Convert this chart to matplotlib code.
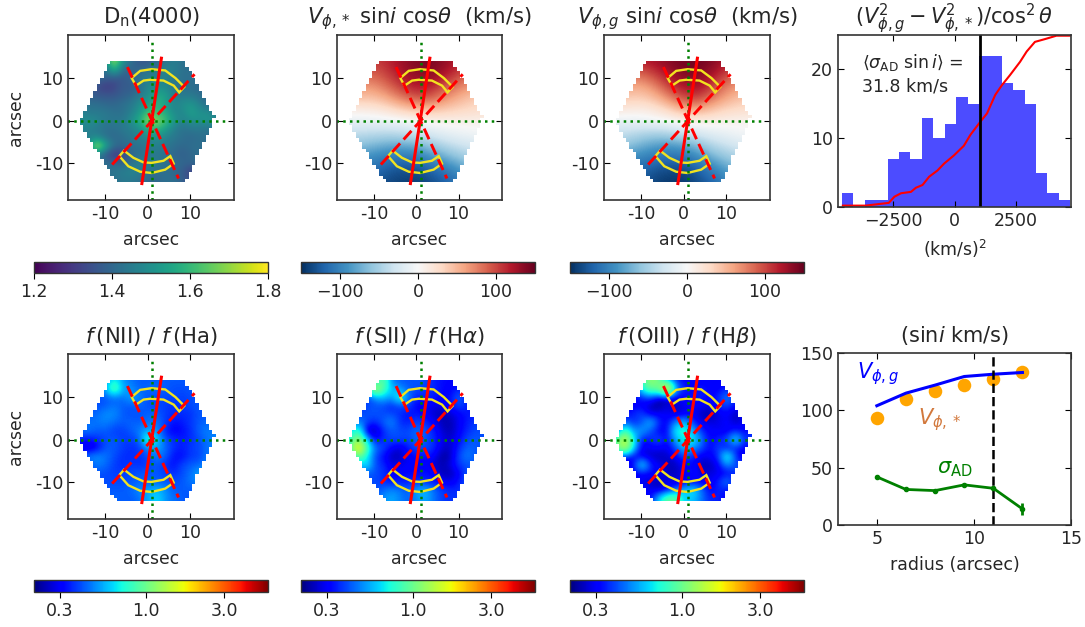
import matplotlib
matplotlib.use('Agg')
import matplotlib.pyplot as plt
import numpy as np
from matplotlib.colors import LogNorm, Normalize
from matplotlib.patches import Polygon

W, H = 1085, 627

# map grids
fine_x = [-16, -14, -12, -10, -8, -6, -4, -2, 0, 2, 4, 6, 8, 10, 12, 14, 16]
fine_y = [14, 12, 10, 8, 6, 4, 2, 0, -2, -4, -6, -8, -10, -12, -14]
vel_x = [-16, -12.8, -9.6, -6.4, -3.2, 0, 3.2, 6.4, 9.6, 12.8, 16]
vel_y = [14, 11.1, 8.2, 5.3, 2.4, -0.5, -3.4, -6.3, -9.2, -12.1, -15]

dn4000 = [
    [1.42, 1.42, 1.42, 1.50, 1.74, 1.50, 1.42, 1.36, 1.36, 1.40, 1.42, 1.46, 1.42, 1.42, 1.42, 1.42, 1.42],
    [1.42, 1.42, 1.42, 1.42, 1.60, 1.42, 1.38, 1.40, 1.42, 1.45, 1.48, 1.46, 1.42, 1.42, 1.42, 1.42, 1.42],
    [1.42, 1.42, 1.40, 1.38, 1.36, 1.36, 1.40, 1.44, 1.46, 1.46, 1.46, 1.44, 1.42, 1.42, 1.42, 1.42, 1.42],
    [1.40, 1.40, 1.34, 1.30, 1.32, 1.38, 1.36, 1.42, 1.48, 1.50, 1.48, 1.44, 1.42, 1.42, 1.40, 1.40, 1.40],
    [1.40, 1.38, 1.36, 1.36, 1.36, 1.38, 1.40, 1.44, 1.50, 1.56, 1.54, 1.46, 1.44, 1.44, 1.42, 1.40, 1.40],
    [1.44, 1.42, 1.42, 1.40, 1.40, 1.42, 1.44, 1.50, 1.54, 1.60, 1.54, 1.46, 1.50, 1.52, 1.46, 1.40, 1.40],
    [1.46, 1.44, 1.44, 1.44, 1.42, 1.42, 1.46, 1.52, 1.62, 1.60, 1.56, 1.48, 1.48, 1.54, 1.50, 1.50, 1.42],
    [1.48, 1.50, 1.48, 1.44, 1.44, 1.44, 1.50, 1.58, 1.72, 1.70, 1.62, 1.52, 1.46, 1.50, 1.50, 1.52, 1.50],
    [1.48, 1.46, 1.44, 1.42, 1.42, 1.44, 1.46, 1.50, 1.58, 1.60, 1.54, 1.46, 1.42, 1.44, 1.44, 1.42, 1.44],
    [1.42, 1.46, 1.48, 1.42, 1.40, 1.42, 1.44, 1.46, 1.48, 1.50, 1.46, 1.44, 1.42, 1.40, 1.42, 1.42, 1.40],
    [1.42, 1.50, 1.78, 1.56, 1.42, 1.40, 1.42, 1.42, 1.44, 1.46, 1.44, 1.42, 1.40, 1.42, 1.42, 1.40, 1.40],
    [1.42, 1.44, 1.46, 1.36, 1.28, 1.32, 1.40, 1.42, 1.44, 1.44, 1.42, 1.40, 1.38, 1.40, 1.42, 1.40, 1.40],
    [1.42, 1.42, 1.42, 1.42, 1.40, 1.38, 1.42, 1.46, 1.46, 1.44, 1.42, 1.42, 1.40, 1.40, 1.42, 1.40, 1.40],
    [1.42, 1.42, 1.42, 1.42, 1.44, 1.46, 1.48, 1.46, 1.42, 1.42, 1.42, 1.40, 1.38, 1.30, 1.36, 1.40, 1.40],
    [1.42, 1.42, 1.42, 1.42, 1.42, 1.44, 1.44, 1.42, 1.40, 1.40, 1.42, 1.42, 1.38, 1.34, 1.38, 1.40, 1.40],
]
vel_star = [
    [105, 105, 105, 115, 130, 140, 142, 135, 120, 105, 100],
    [90, 90, 92, 108, 125, 135, 138, 125, 105, 92, 88],
    [68, 66, 70, 88, 110, 122, 120, 98, 80, 66, 60],
    [45, 44, 46, 60, 80, 95, 92, 72, 55, 42, 36],
    [8, 10, 14, 22, 34, 42, 42, 38, 32, 28, 24],
    [-14, -14, -14, -12, -10, -6, 2, 4, 5, 6, 6],
    [-40, -42, -44, -46, -42, -36, -28, -18, -12, -8, -6],
    [-60, -68, -75, -82, -82, -78, -64, -50, -38, -30, -25],
    [-92, -95, -102, -110, -112, -112, -98, -82, -66, -54, -46],
    [-108, -112, -118, -128, -134, -134, -124, -112, -98, -82, -70],
    [-120, -125, -130, -138, -142, -142, -135, -125, -110, -90, -80],
]
vel_gas = [
    [110, 115, 120, 128, 138, 145, 145, 140, 125, 110, 105],
    [88, 88, 90, 108, 128, 140, 140, 128, 105, 90, 85],
    [62, 58, 58, 78, 108, 125, 128, 108, 80, 65, 60],
    [42, 38, 38, 50, 75, 100, 104, 82, 60, 45, 40],
    [14, 12, 10, 18, 32, 52, 54, 42, 30, 26, 22],
    [-14, -14, -12, -8, -5, 0, 6, 7, 5, 4, 4],
    [-38, -42, -50, -55, -50, -38, -30, -20, -14, -6, -4],
    [-54, -66, -78, -88, -92, -86, -70, -50, -38, -28, -22],
    [-90, -98, -105, -112, -115, -115, -102, -80, -64, -52, -45],
    [-108, -115, -122, -132, -138, -138, -125, -108, -90, -72, -60],
    [-118, -120, -128, -142, -145, -145, -135, -122, -105, -82, -70],
]
nii_ha = [
    [.40, .40, .40, .50, .70, .50, .45, .42, .42, .42, .42, .42, .42, .40, .40, .40, .40],
    [.40, .40, .40, .55, 1.0, .55, .50, .42, .44, .46, .42, .40, .40, .42, .40, .40, .40],
    [.40, .40, .40, .42, .44, .45, .55, .48, .40, .40, .40, .40, .38, .40, .40, .40, .40],
    [.40, .40, .40, .42, .46, .42, .42, .44, .40, .40, .38, .36, .38, .40, .42, .40, .40],
    [.40, .42, .45, .50, .50, .42, .40, .40, .44, .42, .38, .36, .36, .36, .42, .40, .40],
    [.42, .46, .46, .48, .44, .42, .44, .42, .46, .46, .38, .32, .34, .38, .42, .45, .40],
    [.44, .46, .42, .42, .38, .38, .42, .48, .55, .50, .34, .30, .32, .36, .44, .48, .45],
    [.35, .32, .36, .40, .42, .38, .38, .42, .85, .60, .40, .36, .34, .36, .40, .46, .50],
    [.28, .24, .30, .42, .42, .38, .36, .38, .50, .55, .44, .36, .34, .38, .40, .46, .50],
    [.40, .48, .50, .46, .40, .36, .36, .36, .40, .48, .42, .32, .32, .38, .38, .48, .40],
    [.40, .40, .48, .44, .38, .36, .38, .36, .38, .42, .36, .32, .40, .42, .44, .50, .40],
    [.40, .40, .40, .40, .38, .38, .40, .42, .42, .42, .38, .36, .40, .46, .55, .55, .40],
    [.40, .40, .40, .40, .40, .40, .42, .44, .42, .42, .42, .40, .42, .46, .50, .40, .40],
    [.40, .40, .40, .42, .42, .42, .44, .50, .55, .60, .50, .42, .42, .42, .42, .40, .40],
    [.40, .40, .40, .42, .44, .42, .42, .45, .55, .65, .50, .45, .42, .40, .40, .40, .40],
]
sii_ha = [
    [.35, .35, .35, .60, 1.0, .45, .42, .40, .42, .40, .35, .32, .32, .30, .30, .30, .30],
    [.35, .35, .35, 1.4, .90, .60, .50, .42, .40, .38, .35, .32, .30, .35, .30, .30, .30],
    [.35, .35, .35, .50, .60, .50, .80, .45, .34, .35, .35, .30, .32, .45, .32, .30, .30],
    [.35, .35, .40, .40, .40, .34, .40, .38, .30, .30, .28, .28, .34, .40, .34, .30, .30],
    [.35, .40, .40, .42, .40, .40, .36, .32, .34, .30, .26, .24, .26, .30, .34, .34, .30],
    [.40, .50, .40, .34, .42, .50, .36, .34, .40, .36, .30, .24, .24, .30, .34, .38, .40],
    [.55, .90, .24, .22, .35, .42, .40, .40, .45, .42, .34, .26, .24, .30, .36, .40, .40],
    [.70, 1.2, .60, .30, .36, .40, .40, .38, .45, .40, .36, .28, .26, .32, .40, .42, .40],
    [.70, 1.9, .90, .45, .40, .30, .26, .34, .40, .40, .36, .26, .26, .36, .44, .42, .40],
    [.50, 1.0, .70, .40, .32, .24, .25, .30, .32, .34, .30, .22, .25, .40, .48, .40, .40],
    [.40, .50, .70, .40, .36, .28, .28, .30, .30, .30, .26, .24, .28, .38, .40, .42, .40],
    [.40, .40, .42, .40, .38, .30, .32, .32, .32, .34, .30, .24, .24, .30, .42, .45, .40],
    [.40, .40, .40, .40, .36, .32, .34, .34, .36, .34, .34, .30, .28, .34, .42, .40, .40],
    [.40, .40, .40, .40, .44, .50, .46, .42, .55, .60, .44, .38, .36, .36, .40, .40, .40],
    [.40, .40, .40, .40, .50, .55, .48, .42, .50, .55, .45, .38, .36, .38, .40, .40, .40],
]
oiii_hb = [
    [.30, .30, .30, .80, 1.2, 1.0, .50, .35, .30, .30, .30, .30, .30, .30, .30, .30, .30],
    [.30, .30, .30, .70, 1.0, 1.0, 1.8, .50, .35, .30, .35, .30, .30, .35, .30, .30, .30],
    [.30, .30, .30, .35, .40, .25, .26, .30, .30, .35, .35, .30, .35, .50, .35, .30, .30],
    [.30, .30, .30, .30, .24, .22, .28, .25, .30, .30, .30, .28, .35, .40, .30, .30, .30],
    [.30, .30, .35, .40, .28, .30, .30, .25, .28, .30, .25, .22, .28, .30, .24, .30, .30],
    [.30, .45, .35, .40, .60, .35, .30, .50, .60, .35, .28, .28, .28, .32, .25, .30, .30],
    [.30, .90, .50, .55, .40, .30, .30, .70, .80, .55, .35, .30, .30, .28, .35, .30, .35],
    [.90, 1.5, .70, .30, .35, .42, .30, .55, .70, .70, .45, .30, .35, .40, .70, .35, .40],
    [.90, 1.4, .60, .28, .30, .30, .28, .40, .60, .50, .40, .30, .40, .30, .35, .30, .30],
    [.30, .30, .30, .28, .25, .24, .26, .30, .40, .35, .28, .30, .35, .80, .35, .25, .30],
    [.30, .30, .30, .70, .35, .30, .24, .25, .30, .32, .24, .24, .30, .50, .40, .40, .30],
    [.30, .30, .30, .30, .32, .30, .25, .25, .30, .35, .26, .28, .28, .30, .35, .45, .30],
    [.30, .30, .30, .30, .25, .24, .30, .26, .28, .28, .30, .28, .35, .50, .30, .30, .30],
    [.30, .30, .30, .30, .30, .26, .28, .45, .60, .70, .45, .30, .35, .32, .30, .30, .30],
    [.30, .30, .30, .30, .30, .60, 1.0, 1.0, .60, .60, .45, .35, .35, .30, .30, .30, .30],
]

# outline of the fibre bundle, left chain and right chain from bottom to top
left_y, left_x = [-14.6, -1.0, 13.4], [-7.6, -16.0, -9.2]
right_y, right_x = [-14.6, 0.3, 13.6], [9.0, 15.8, 8.6]
spaxel = 0.8

# overlays on every map
major_x, major_y = [-1.4, 3.2], [-14.9, 14.8]
wedge1_x, wedge1_y = [-4.8, 7.25], [12.7, -13.7]
wedge2_x, wedge2_y = [-8.4, 11.0], [-10.4, 11.0]
arc_top_x = [-3.8, -1.8, 0.9, 4.1, 6.5, 8.6, 7.4, 6.1, 3.7, 0.6, -1.0, -2.8]
arc_top_y = [10.1, 11.8, 12.2, 11.9, 10.1, 8.0, 6.7, 8.3, 9.5, 9.7, 9.5, 8.3]
arc_bot_x = [-6.7, -4.6, -1.8, 0.9, 4.1, 6.1, 5.3, 3.7, 0.9, -1.0, -3.4, -5.6]
arc_bot_y = [-8.4, -10.8, -12.1, -12.4, -11.6, -10.2, -8.4, -9.5, -10.0, -9.9, -8.8, -7.1]

# histogram
hist_counts = [2, 0, 1, 1, 7, 8, 7, 13, 10, 12, 16, 15, 22, 22, 18, 17, 15, 5, 2, 1]
hist_edges = [-4577, -4113, -3649, -3185, -2721, -2257, -1793, -1329, -865, -401, 63,
              527, 991, 1455, 1919, 2383, 2847, 3311, 3775, 4239, 4703]
cum_x = [-4543, -3615, -2675, -2446, -2177, -1774, -1572, -1304, -1035, -699, -430, -27,
         376, 645, 1048, 1317, 1653, 1922, 2258, 2661, 2930, 3266, 3669, 4140, 4677]
cum_y = [0.2, 0.2, 0.6, 1.5, 2.0, 2.2, 2.8, 3.2, 4.4, 5.3, 6.3, 7.5,
         8.9, 10.5, 12.4, 13.6, 16.3, 17.7, 19.2, 21.1, 22.6, 24.0, 24.4, 24.9, 24.9]
mean_value = 1035

# rotation curves
radius = [5, 6.5, 8, 9.5, 11, 12.5]
v_star = [93, 110, 117, 122, 127, 133]
v_gas = [104, 115, 122, 129.5, 131.5, 133]
sigma_ad = [42, 31, 30, 35, 32, 14]
sigma_err = [1, 1, 1, 1, 1.5, 5]
r_limit = 11

TEXT = '#262626'
plt.rcParams['font.size'] = 12
plt.rcParams['text.color'] = TEXT
plt.rcParams['axes.labelcolor'] = TEXT
plt.rcParams['axes.edgecolor'] = '#333333'
plt.rcParams['xtick.labelcolor'] = TEXT
plt.rcParams['ytick.labelcolor'] = TEXT
plt.rcParams['axes.linewidth'] = 1.2


def px_axes(fig, left, top, right, bottom):
    return fig.add_axes([left / W, 1 - bottom / H, (right - left) / W, (bottom - top) / H])


def inward_ticks(ax):
    ax.tick_params(direction='in', top=True, right=True, length=4, labelsize=12.5)


def stair_outline():
    # the map is made of square spaxels, so its edge goes in steps
    rows = np.arange(left_y[0], left_y[-1] + spaxel, spaxel)
    lefts = np.round(np.interp(rows, left_y, left_x) / spaxel) * spaxel
    rights = np.round(np.interp(rows, right_y, right_x) / spaxel) * spaxel
    pts = []
    for y, x in zip(rows, rights):
        pts += [(x, y), (x, y + spaxel)]
    for y, x in zip(rows[::-1], lefts[::-1]):
        pts += [(x, y + spaxel), (x, y)]
    return pts


def draw_map(fig, box, cbox, data, xs, ys, title, cmap, norm, cticks, clabels, ylabel):
    ax = px_axes(fig, *box)
    dx = (xs[1] - xs[0]) / 2
    dy = (ys[0] - ys[1]) / 2
    im = ax.imshow(np.array(data, dtype=float), cmap=cmap, norm=norm, interpolation='bicubic',
                   extent=[xs[0] - dx, xs[-1] + dx, ys[-1] - dy, ys[0] + dy], aspect='auto')
    clip = Polygon(stair_outline(), transform=ax.transData, fc='none', ec='none')
    ax.add_patch(clip)
    im.set_clip_path(clip)

    ax.plot([-19, 18.5], [0, 0], color='g', lw=1.8, ls=(0, (1, 1.7)))
    ax.plot([1, 1], [-18.7, 19], color='g', lw=1.8, ls=(0, (1, 1.7)))
    ax.fill(arc_top_x, arc_top_y, fc='none', ec='#f2e320', lw=1.7)
    ax.fill(arc_bot_x, arc_bot_y, fc='none', ec='#f2e320', lw=1.7)
    ax.plot(wedge1_x, wedge1_y, color='r', lw=2.1, ls=(0, (4, 1.8)))
    ax.plot(wedge2_x, wedge2_y, color='r', lw=2.1, ls=(0, (4, 1.8)))
    ax.plot(major_x, major_y, '-', color='r', lw=2.2)

    ax.set_xlim(-18.8, 20.3)
    ax.set_ylim(-18.8, 20.3)
    ax.set_xticks([-10, 0, 10])
    ax.set_xticklabels(['-10', '0', '10'])
    ax.set_yticks([-10, 0, 10])
    ax.set_yticklabels(['-10', '0', '10'])
    inward_ticks(ax)
    ax.set_xlabel('arcsec', fontsize=12.4, labelpad=6)
    if ylabel:
        ax.set_ylabel('arcsec', fontsize=12.4, labelpad=7)
    ax.set_title(title, fontsize=15.2, pad=8)

    cax = px_axes(fig, *cbox)
    cb = fig.colorbar(im, cax=cax, orientation='horizontal')
    cb.minorticks_off()
    cb.set_ticks(cticks)
    cb.set_ticklabels(clabels)
    cax.tick_params(labelsize=12.5, length=4)
    cb.outline.set_linewidth(1.0)
    cax.minorticks_off()


def draw_hist(fig):
    ax = px_axes(fig, 838, 35, 1071, 207)
    ax.stairs(hist_counts, hist_edges, fill=True, color='b', alpha=0.7, lw=0)
    ax.plot(cum_x, cum_y, color='r', lw=1.5)
    ax.axvline(mean_value, color='k', lw=2)
    ax.set_xlim(-4740, 4732)
    ax.set_ylim(0, 25)
    ax.set_xticks([-2500, 0, 2500])
    ax.set_yticks([0, 10, 20])
    inward_ticks(ax)
    ax.set_xlabel(r'(km/s)$^2$', fontsize=12.4, labelpad=6)
    ax.set_title(r'$(V_{\phi,g}^2 - V_{\phi,*}^2)/\cos^2\theta$', fontsize=15, pad=8)
    ax.text(-3750, 21.0, r'$\langle\sigma_{\rm AD}\ \sin i\rangle$ =', fontsize=12.5, va='center')
    ax.text(-3750, 17.5, '31.8 km/s', fontsize=12.5, va='center')


def draw_curves(fig):
    ax = px_axes(fig, 838, 353, 1071, 525)
    ax.scatter(radius, v_star, s=95, color='orange', lw=0)
    ax.plot(radius, v_gas, color='b', lw=2.2)
    ax.errorbar(radius, sigma_ad, yerr=sigma_err, color='g', lw=2, marker='.', ms=6)
    ax.axvline(r_limit, color='k', ls='--', lw=1.8)
    ax.set_xlim(3, 15)
    ax.set_ylim(0, 150)
    ax.set_xticks([5, 10, 15])
    ax.set_yticks([0, 50, 100, 150])
    inward_ticks(ax)
    ax.set_xlabel('radius (arcsec)', fontsize=12.5, labelpad=6)
    ax.set_title(r'(sin$i$ km/s)', fontsize=15, pad=8)
    ax.text(4.0, 128, r'$V_{\phi,g}$', color='b', fontsize=15)
    ax.text(7.1, 88, r'$V_{\phi,*}$', color='#d2783c', fontsize=15)
    ax.text(8.1, 45, r'$\sigma_{\rm AD}$', color='g', fontsize=15)


def main():
    fig = plt.figure(figsize=(W / 100, H / 100), dpi=100)

    vel_norm = Normalize(-150, 150)
    log_norm = LogNorm(0.208, 5.55)
    vel_ticks, vel_labels = [-100, 0, 100], ['\u2212100', '0', '100']
    log_ticks, log_labels = [0.3, 1.0, 3.0], ['0.3', '1.0', '3.0']

    draw_map(fig, (68, 35, 234, 200), (34, 262, 268, 273), dn4000, fine_x, fine_y, r'D$_{\rm n}$(4000)',
             'viridis', Normalize(1.2, 1.8), [1.2, 1.4, 1.6, 1.8], ['1.2', '1.4', '1.6', '1.8'], True)
    draw_map(fig, (337, 35, 502, 200), (301, 262, 535, 273), vel_star, vel_x, vel_y,
             r'$V_{\phi,*}$ sin$i$ cos$\theta$  (km/s)', 'RdBu_r', vel_norm, vel_ticks, vel_labels, False)
    draw_map(fig, (604, 35, 770, 200), (570, 262, 804, 273), vel_gas, vel_x, vel_y,
             r'$V_{\phi,g}$ sin$i$ cos$\theta$  (km/s)', 'RdBu_r', vel_norm, vel_ticks, vel_labels, False)
    draw_map(fig, (68, 354, 234, 519), (34, 580, 268, 592), nii_ha, fine_x, fine_y,
             r'$f\,$(NII) / $f\,$(Ha)', 'jet', log_norm, log_ticks, log_labels, True)
    draw_map(fig, (337, 354, 502, 519), (301, 580, 535, 592), sii_ha, fine_x, fine_y,
             r'$f\,$(SII) / $f\,$(H$\alpha$)', 'jet', log_norm, log_ticks, log_labels, False)
    draw_map(fig, (604, 354, 770, 519), (570, 580, 804, 592), oiii_hb, fine_x, fine_y,
             r'$f\,$(OIII) / $f\,$(H$\beta$)', 'jet', log_norm, log_ticks, log_labels, False)

    draw_hist(fig)
    draw_curves(fig)

    fig.savefig('out.png', dpi=100)


if __name__ == "__main__":
    main()
